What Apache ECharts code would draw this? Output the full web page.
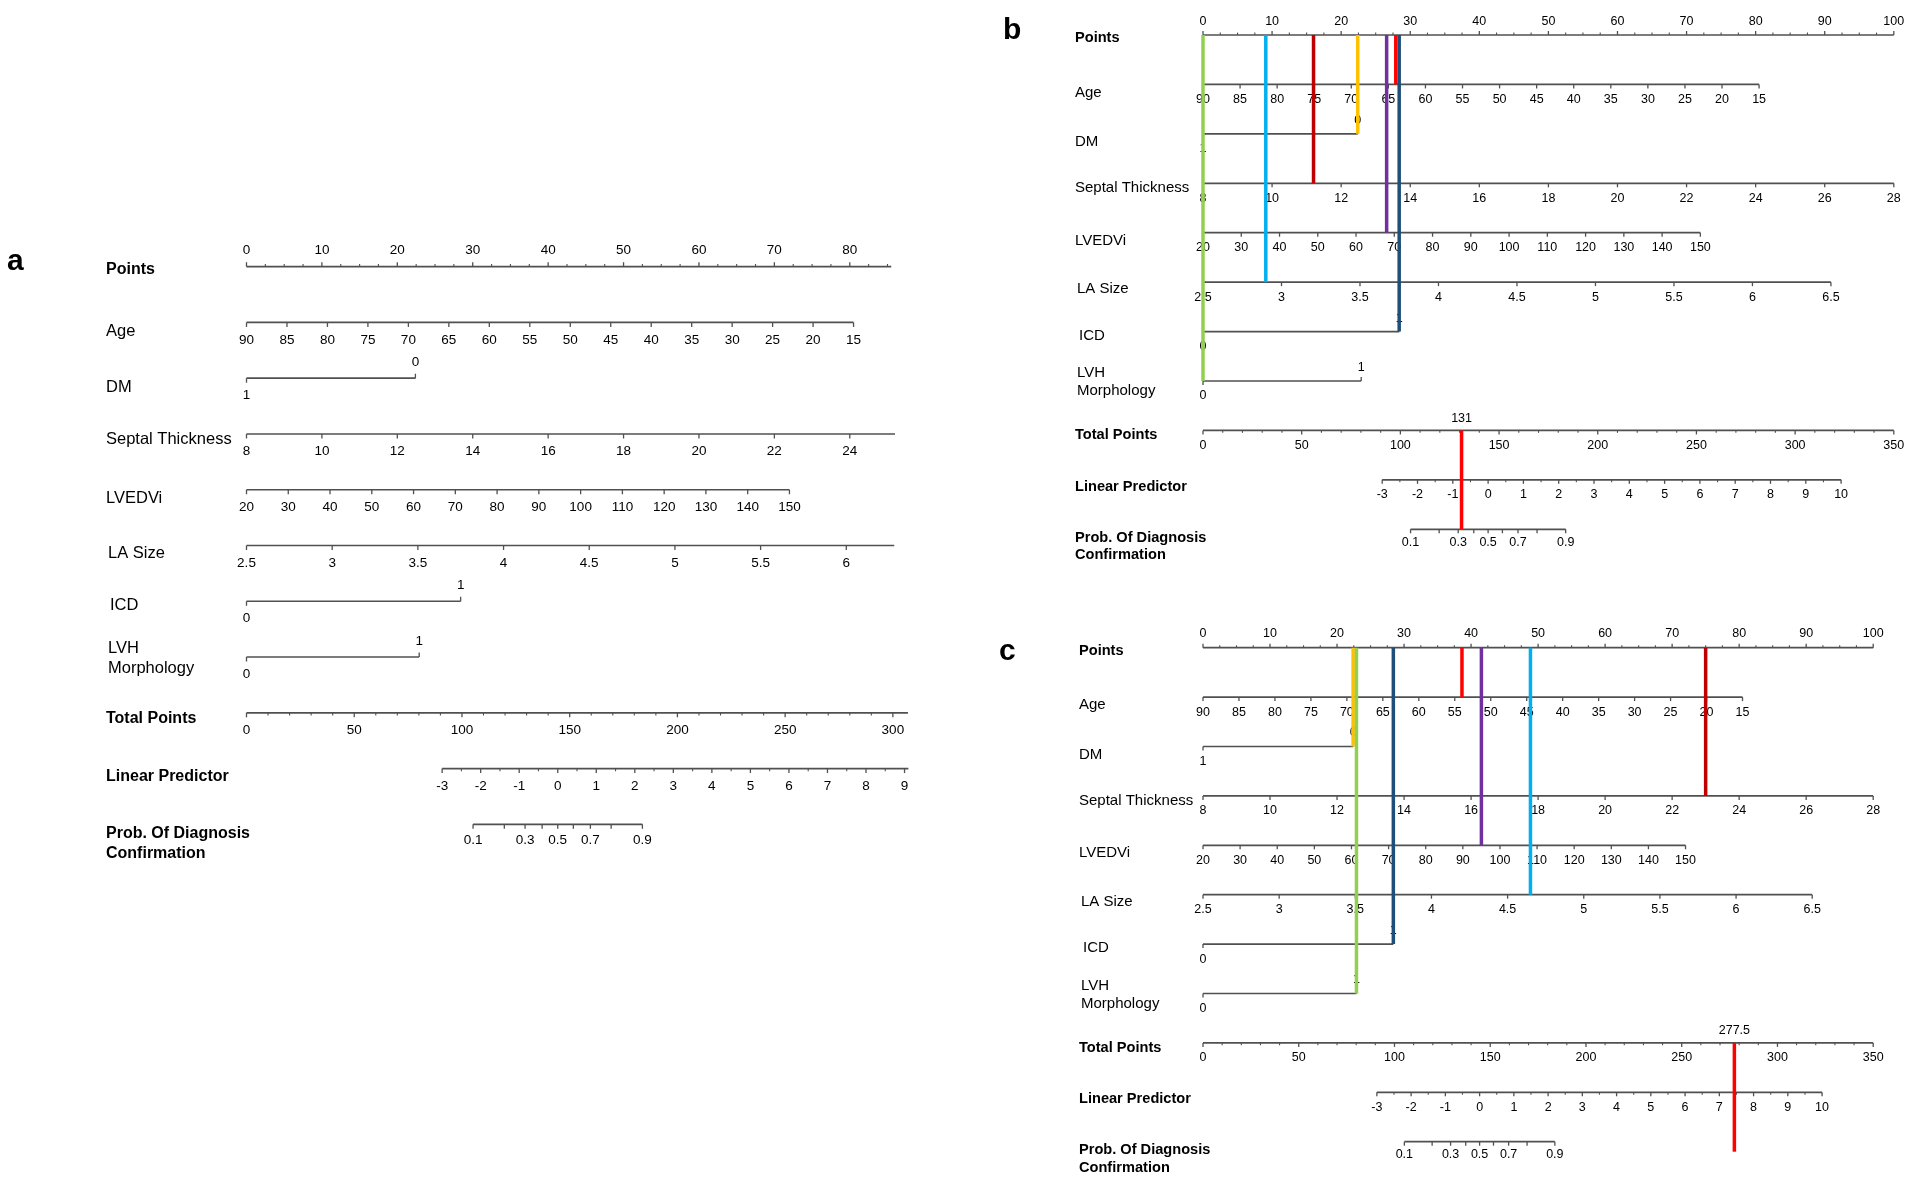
<!DOCTYPE html>
<html>
<head>
<meta charset="utf-8">
<script src="https://cdn.jsdelivr.net/npm/echarts@6/dist/echarts.min.js"></script>
<style>
html, body { margin: 0; padding: 0; background: #fff; }
#container { width: 1910px; height: 1178px; }
</style>
</head>
<body>
<div id="container"></div>
<script>
var rowNames = ['Points', 'Age', 'DM', 'Septal Thickness', 'LVEDVi', 'LA Size', 'ICD',
    'LVH\nMorphology', 'Total Points', 'Linear Predictor', 'Prob. Of Diagnosis\nConfirmation'];
var boldRows = [true, false, false, false, false, false, false, false, true, true, true];

// tick values of each scale
var pointsTicks = [0, 10, 20, 30, 40, 50, 60, 70, 80, 90, 100];
var ageTicks = [90, 85, 80, 75, 70, 65, 60, 55, 50, 45, 40, 35, 30, 25, 20, 15];
var dmTicks = [1, 0];
var septalTicks = [8, 10, 12, 14, 16, 18, 20, 22, 24, 26, 28];
var lvediTicks = [20, 30, 40, 50, 60, 70, 80, 90, 100, 110, 120, 130, 140, 150];
var laTicks = [2.5, 3, 3.5, 4, 4.5, 5, 5.5, 6, 6.5];
var icdTicks = [0, 1];
var lvhTicks = [0, 1];
var totalTicks = [0, 50, 100, 150, 200, 250, 300, 350];
var lpTicks = [-3, -2, -1, 0, 1, 2, 3, 4, 5, 6, 7, 8, 9, 10];
var probTicks = [0.1, 0.2, 0.3, 0.4, 0.5, 0.6, 0.7, 0.8, 0.9];
var probLabels = [0.1, 0.3, 0.5, 0.7, 0.9];

// value -> points, read at both ends of each scale
var ageScale = [[90, 0], [15, 80.5]];
var dmScale = [[1, 0], [0, 22.4]];
var septalScale = [[8, 0], [28, 100]];
var lvediScale = [[20, 0], [150, 72]];
var laScale = [[2.5, 0], [6.5, 90.9]];
var icdScale = [[0, 0], [1, 28.4]];
var lvhScale = [[0, 0], [1, 22.9]];
var totalScale = [[0, 0], [350, 100]];
var lpScale = [[-3, 90.8], [10, 323.3]];   // linear predictor -> total points

// patients in b and c: Age, DM, Septal Thickness, LVEDVi, LA Size, ICD, LVH Morphology
var patientB = [64, 0, 11.2, 68, 2.9, 1, 0];
var patientC = [54, 0, 23, 95, 4.65, 1, 1];
var totalB = 131;
var totalC = 277.5;

// panel a is cut off on the right
var axisEndA = {points: 85.5, septal: 25.2, la: 6.28, total: 307, lp: 9.1};

var FONT = '"Liberation Sans", Arial, Helvetica, sans-serif';
var AXIS_COLOR = '#505050';
var markerColors = ['#ff0000', '#ffc000', '#c00000', '#7030a0', '#00b0f0', '#1f4e79', '#92d050'];

function lin(sc) {
    var a = sc[0], b = sc[1];
    return function (v) {
        return a[1] + (v - a[0]) * (b[1] - a[1]) / (b[0] - a[0]);
    };
}
var totalToPts = lin(totalScale);
var lpToTotal = lin(lpScale);
var toPts = [
    function (v) { return v; },
    lin(ageScale), lin(dmScale), lin(septalScale), lin(lvediScale), lin(laScale),
    lin(icdScale), lin(lvhScale),
    totalToPts,
    function (v) { return totalToPts(lpToTotal(v)); },
    function (v) { return totalToPts(lpToTotal(Math.log(v / (1 - v)))); }
];

function upTo(t, e) {
    if (e == null) return t;
    return t.filter(function (v) { return v <= e + 1e-9; });
}

function makeRows(ends) {
    ends = ends || {};
    return [
        {ticks: upTo(pointsTicks, ends.points), end: ends.points, minor: 2.5, side: 'above'},
        {ticks: ageTicks},
        {ticks: dmTicks, sides: ['below', 'above']},
        {ticks: upTo(septalTicks, ends.septal), end: ends.septal},
        {ticks: lvediTicks},
        {ticks: upTo(laTicks, ends.la), end: ends.la},
        {ticks: icdTicks, sides: ['below', 'above']},
        {ticks: lvhTicks, sides: ['below', 'above']},
        {ticks: upTo(totalTicks, ends.total), end: ends.total, minor: 10},
        {ticks: upTo(lpTicks, ends.lp), end: ends.lp, minor: 0.5},
        {ticks: probTicks, labels: probLabels, labelShift: -2}
    ];
}

// vertical offsets of the row names (panel b scale), two-line names get two offsets
var nameOffsets = [3, 8, 8, 5, 8, 7, 4, [-8, 10], 5, 7, [8.5, 26]];
var nameIndent = [0, 0, 0, 0, 0, 2, 4, 2, 0, 0, 0];

var panels = [
    {letter: 'a', letterX: 7, letterY: 262, left: 246.5, pxPerPt: 7.541, top: 266.7, bottom: 824.3,
        labelX: 106, tickFont: 13.5, nameFont: 16.5, boldFont: 16, below: 17.5, above: -16,
        nameScale: 1.12, tickLen: 4.5, rows: makeRows(axisEndA)},
    {letter: 'b', letterX: 1003, letterY: 31, left: 1203, pxPerPt: 6.908, top: 35, bottom: 529.3,
        labelX: 1075, tickFont: 12.5, nameFont: 15, boldFont: 14.6, below: 15, above: -13.5,
        nameScale: 1, tickLen: 4, rows: makeRows(), patient: patientB, total: totalB, tail: 0},
    {letter: 'c', letterX: 999, letterY: 652, left: 1203, pxPerPt: 6.702, top: 647.7, bottom: 1141.7,
        labelX: 1079, tickFont: 12.5, nameFont: 15, boldFont: 14.6, below: 15, above: -14,
        nameScale: 1, tickLen: 4, rows: makeRows(), patient: patientC, total: totalC, tail: 10}
];

function textEl(str, x, y, font, align, color) {
    return {
        type: 'text',
        style: {
            text: str, x: x, y: y, font: font, fill: color || '#000',
            align: align, textAlign: align,
            verticalAlign: 'middle', textVerticalAlign: 'middle'
        }
    };
}
function lineEl(x1, y1, x2, y2, color, width) {
    return {
        type: 'line',
        shape: {x1: x1, y1: y1, x2: x2, y2: y2},
        style: {stroke: color, lineWidth: width}
    };
}

function axisRenderer(panel) {
    return function (params, api) {
        var k = params.dataIndex;
        var row = panel.rows[k];
        var f = toPts[k];
        var y = api.coord([0, k])[1];
        var px = function (v) { return api.coord([f(v), k])[0]; };
        var start = row.ticks[0];
        var end = row.end != null ? row.end : row.ticks[row.ticks.length - 1];
        var children = [];
        children.push(lineEl(px(start), y, px(end), y, AXIS_COLOR, 1.7));

        var tickFont = panel.tickFont + 'px ' + FONT;
        var labels = row.labels || row.ticks;
        row.ticks.forEach(function (v, i) {
            var side = row.sides ? row.sides[i] : (row.side || 'below');
            var dir = side === 'above' ? -1 : 1;
            var x = px(v);
            children.push(lineEl(x, y, x, y + dir * panel.tickLen, AXIS_COLOR, 1.3));
            if (labels.indexOf(v) >= 0) {
                var ly = y + (side === 'above' ? panel.above : panel.below + (row.labelShift || 0));
                children.push(textEl(String(v), x, ly, tickFont, 'center'));
            }
        });
        if (row.minor) {
            for (var m = start; m <= end + 1e-9; m += row.minor) {
                var isMajor = row.ticks.some(function (t) { return Math.abs(t - m) < 1e-9; });
                if (isMajor) continue;
                var dir = row.side === 'above' ? -1 : 1;
                var xm = px(m);
                children.push(lineEl(xm, y, xm, y + dir * panel.tickLen * 0.6, AXIS_COLOR, 1.1));
            }
        }

        // row name
        var nameFont = boldRows[k] ? 'bold ' + panel.boldFont + 'px ' + FONT : panel.nameFont + 'px ' + FONT;
        var parts = rowNames[k].split('\n');
        var offs = nameOffsets[k];
        if (!Array.isArray(offs)) offs = [offs];
        parts.forEach(function (s, j) {
            children.push(textEl(s, panel.labelX + nameIndent[k], y + offs[j] * panel.nameScale, nameFont, 'left'));
        });
        return {type: 'group', children: children};
    };
}

function markerRenderer(params, api) {
    var p0 = api.coord([api.value(0), api.value(1)]);
    var p1 = api.coord([api.value(0), api.value(2)]);
    return lineEl(p0[0], p0[1], p1[0], p1[1], markerColors[params.dataIndex], 3.5);
}

function totalRenderer(panel) {
    return function (params, api) {
        var p0 = api.coord([api.value(0), api.value(1)]);
        var p1 = api.coord([api.value(0), api.value(2)]);
        return {
            type: 'group',
            children: [
                lineEl(p0[0], p0[1], p1[0], p1[1] + panel.tail, '#ff0000', 3.5),
                textEl(String(api.value(3)), p0[0], p0[1] - 12, panel.tickFont + 'px ' + FONT, 'center')
            ]
        };
    };
}

var dom = document.getElementById('container');
var myChart = echarts.init(dom);

var grids = [], xAxes = [], yAxes = [], series = [];
panels.forEach(function (p, i) {
    grids.push({left: p.left, top: p.top, width: 100 * p.pxPerPt, height: p.bottom - p.top, containLabel: false});
    xAxes.push({gridIndex: i, type: 'value', min: 0, max: 100, show: false});
    yAxes.push({gridIndex: i, type: 'value', min: 0, max: 10, inverse: true, show: false});
    series.push({
        type: 'custom',
        xAxisIndex: i,
        yAxisIndex: i,
        silent: true,
        z: 2,
        renderItem: axisRenderer(p),
        data: p.rows.map(function (r, k) { return [0, k]; })
    });
    if (p.patient) {
        series.push({
            type: 'custom',
            xAxisIndex: i,
            yAxisIndex: i,
            silent: true,
            z: 3,
            renderItem: markerRenderer,
            data: p.patient.map(function (v, k) { return [toPts[k + 1](v), 0, k + 1]; })
        });
        series.push({
            type: 'custom',
            xAxisIndex: i,
            yAxisIndex: i,
            silent: true,
            z: 3,
            renderItem: totalRenderer(p),
            data: [[totalToPts(p.total), 8, 10, p.total]]
        });
    }
});

var option = {
    backgroundColor: '#fff',
    animation: false,
    grid: grids,
    xAxis: xAxes,
    yAxis: yAxes,
    graphic: panels.map(function (p) {
        return {
            type: 'text',
            x: p.letterX,
            y: p.letterY,
            silent: true,
            style: {
                text: p.letter,
                font: 'bold 30px ' + FONT,
                fill: '#000',
                verticalAlign: 'middle',
                textVerticalAlign: 'middle'
            }
        };
    }),
    series: series
};
myChart.setOption(option);
</script>
</body>
</html>
